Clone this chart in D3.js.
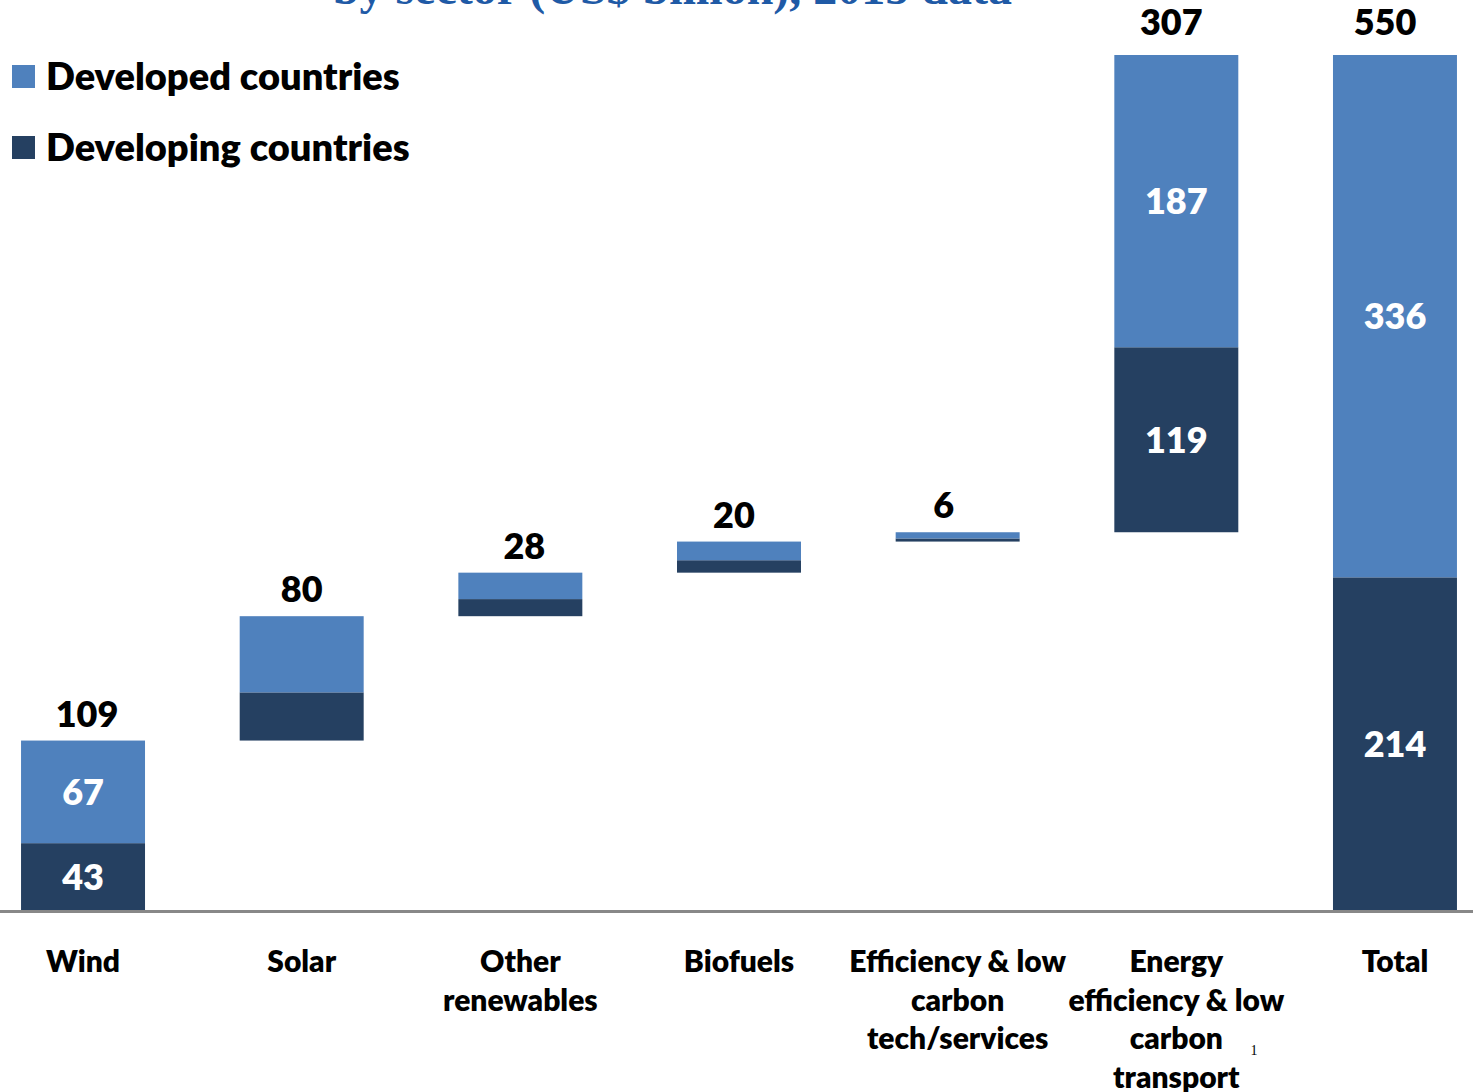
<!DOCTYPE html>
<html>
<head>
<meta charset="utf-8">
<script src="https://cdn.jsdelivr.net/npm/d3@7/dist/d3.min.js"></script>
<style>
  body { margin: 0; background: #fff; }
  svg { display: block; }
  text { font-family: Lato, "Open Sans", sans-serif; font-weight: 800; }
</style>
</head>
<body>
<svg id="chart" width="1473" height="1092"></svg>
<script>
/* chart values (US$ billion) */
const categories = [
  ["Wind"],
  ["Solar"],
  ["Other", "renewables"],
  ["Biofuels"],
  ["Efficiency & low", "carbon", "tech/services"],
  ["Energy", "efficiency & low", "carbon", "transport"],
  ["Total"]
];
const totals     = [109, 80, 28, 20, 6, 307, 550];
const developing = [43, 31, 11, 8, 2, 119, 214];
const developed  = [67, 49, 17, 12, 4, 187, 336];
const showSplitLabels = [true, false, false, false, false, true, true];
const seriesNames = ["Developed countries", "Developing countries"];

const colors = { developed: "#4f81bd", developing: "#254061" };

const svg = d3.select("#chart");
const width = 1473, baseline = 910, plotTop = 55;

/* x: one band per category */
const x = d3.scaleBand()
  .domain(d3.range(categories.length))
  .range([-26.3, 1504.3])
  .paddingInner(0.433)
  .paddingOuter(0.2165);

/* y: cumulative value */
const y = d3.scaleLinear().domain([0, 550]).range([baseline, plotTop]);

/* waterfall bases: each bar starts where the previous ended, the last one from 0 */
const bars = totals.map((t, i) => {
  const last = i === totals.length - 1;
  const base = last ? 0 : d3.sum(totals.slice(0, i));
  return { i, base, total: t, dev: developing[i], dvd: developed[i], split: showSplitLabels[i] };
});

/* title (cut off at top of the slide, as in the original) */
svg.append("text")
  .attr("x", 1012).attr("y", 4)
  .attr("text-anchor", "end")
  .style("font-family", "'Liberation Serif', 'DejaVu Serif', serif")
  .style("font-weight", "700")
  .style("font-size", "48px")
  .attr("fill", "#1f5aa6")
  .text("by sector (US$ billion), 2015 data");

/* bars */
const g = svg.append("g");
g.selectAll("rect.developing").data(bars).join("rect")
  .attr("class", "developing")
  .attr("x", d => x(d.i))
  .attr("width", x.bandwidth())
  .attr("y", d => y(d.base + d.dev))
  .attr("height", d => y(d.base) - y(d.base + d.dev))
  .attr("fill", colors.developing);

g.selectAll("rect.developed").data(bars).join("rect")
  .attr("class", "developed")
  .attr("x", d => x(d.i))
  .attr("width", x.bandwidth())
  .attr("y", d => y(d.base + d.total))
  .attr("height", d => y(d.base + d.dev) - y(d.base + d.total))
  .attr("fill", colors.developed);

/* total labels above bars */
const labelShift = [4, 0, 4, -5, -14, -5, -10];
g.selectAll("text.total").data(bars).join("text")
  .attr("class", "total")
  .attr("x", d => x(d.i) + x.bandwidth() / 2 + labelShift[d.i])
  .attr("y", d => y(d.base + d.total) - (d.i >= 5 ? 20 : 14))
  .attr("text-anchor", "middle")
  .style("font-size", "36px")
  .attr("fill", "#000")
  .text(d => d.total);

/* white labels inside segments */
const inner = bars.filter(d => d.split);
g.selectAll("text.dev").data(inner).join("text")
  .attr("class", "dev")
  .attr("x", d => x(d.i) + x.bandwidth() / 2)
  .attr("y", d => (y(d.base) + y(d.base + d.dev)) / 2)
  .attr("dy", "0.36em")
  .attr("text-anchor", "middle")
  .style("font-size", "36px")
  .attr("fill", "#fff")
  .text(d => d.dev);

g.selectAll("text.dvd").data(inner).join("text")
  .attr("class", "dvd")
  .attr("x", d => x(d.i) + x.bandwidth() / 2)
  .attr("y", d => (y(d.base + d.dev) + y(d.base + d.total)) / 2)
  .attr("dy", "0.36em")
  .attr("text-anchor", "middle")
  .style("font-size", "36px")
  .attr("fill", "#fff")
  .text(d => d.dvd);

/* baseline */
svg.append("line")
  .attr("x1", 0).attr("x2", width)
  .attr("y1", baseline + 1.5).attr("y2", baseline + 1.5)
  .attr("stroke", "#888").attr("stroke-width", 3);

/* category labels */
const cat = svg.selectAll("text.cat").data(categories).join("text")
  .attr("class", "cat")
  .attr("text-anchor", "middle")
  .style("font-size", "30px")
  .attr("fill", "#000");
cat.selectAll("tspan").data((d, i) => d.map(s => ({ s, i }))).join("tspan")
  .attr("x", d => x(d.i) + x.bandwidth() / 2)
  .attr("y", (d, j) => 972 + j * 38.5)
  .text(d => d.s);

/* footnote marker */
svg.append("text")
  .attr("x", 1254).attr("y", 1055)
  .attr("text-anchor", "middle")
  .style("font-family", "'Liberation Serif', serif")
  .style("font-weight", "400")
  .style("font-size", "14px")
  .text("1");

/* legend */
const legend = svg.append("g").selectAll("g").data(seriesNames).join("g")
  .attr("transform", (d, i) => `translate(12,${65 + i * 71})`);
legend.append("rect")
  .attr("width", 23).attr("height", 23)
  .attr("fill", (d, i) => i === 0 ? colors.developed : colors.developing);
legend.append("text")
  .attr("x", 34).attr("y", 25)
  .style("font-size", "38px")
  .attr("fill", "#000")
  .text(d => d);
</script>
</body>
</html>
